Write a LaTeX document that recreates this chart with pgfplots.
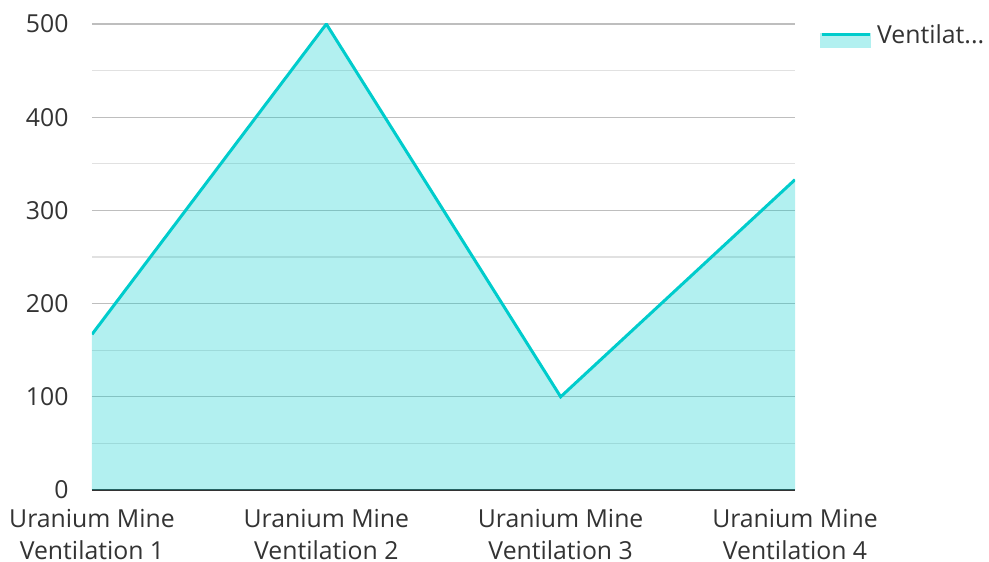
\documentclass[border=0pt]{standalone}
\usepackage{pgfplots}
\pgfplotsset{compat=1.18}
\usepackage{fontspec}
\setmainfont{Open Sans}
\definecolor{linec}{RGB}{0,204,204}
\definecolor{gridmaj}{RGB}{190,190,190}
\definecolor{gridmin}{RGB}{225,225,225}
\definecolor{textc}{RGB}{51,51,51}

\begin{document}
\begin{tikzpicture}[x=1pt,y=1pt]
\useasboundingbox (-92,-72) rectangle (897,490);
\begin{axis}[
  at={(0,0)}, anchor=south west,
  width=703pt, height=466pt, scale only axis,
  xmin=0, xmax=3, ymin=0, ymax=500,
  axis x line*=bottom, axis y line*=left,
  y axis line style={draw=none},
  x axis line style={draw=textc, line width=2pt, -},
  xtick={0,1,2,3},
  xticklabels={{Uranium Mine\\Ventilation 1},{Uranium Mine\\Ventilation 2},{Uranium Mine\\Ventilation 3},{Uranium Mine\\Ventilation 4}},
  ytick={0,100,...,500},
  minor ytick={50,150,...,450},
  ymajorgrids, yminorgrids,
  major grid style={draw=gridmaj, line width=1.2pt},
  minor grid style={draw=gridmin, line width=1.2pt},
  major tick length=0pt, minor tick length=0pt,
  tick style={draw=none},
  /pgf/number format/assume math mode=true,
  ticklabel style={font=\fontsize{24.8}{32}\selectfont, text=textc},
  xticklabel style={align=center, inner sep=0pt, yshift=-19.3pt},
  yticklabel style={xshift=-20pt},
  legend style={at={(1,1)}, anchor=north west, xshift=25pt, yshift=1pt,
    draw=none, fill=none, inner sep=0pt, font=\fontsize{24.8}{28}\selectfont, text=textc,
    nodes={inner sep=1pt}},
  legend cell align=left,
  legend image code/.code={
    \fill[linec!30] (0pt,-12pt) rectangle (48pt,0pt);
    \draw[linec, line width=3pt] (0pt,0pt) -- (48pt,0pt);
  },
]
\addplot[draw=none, fill=linec, fill opacity=0.3, forget plot]
  coordinates {(0,167) (1,500) (2,100) (3,333)} \closedcycle;
\addplot[linec, line width=3pt]
  coordinates {(0,167) (1,500) (2,100) (3,333)};
\addlegendentry{\hspace{5pt}Ventilat...}
\end{axis}
\end{tikzpicture}
\end{document}
